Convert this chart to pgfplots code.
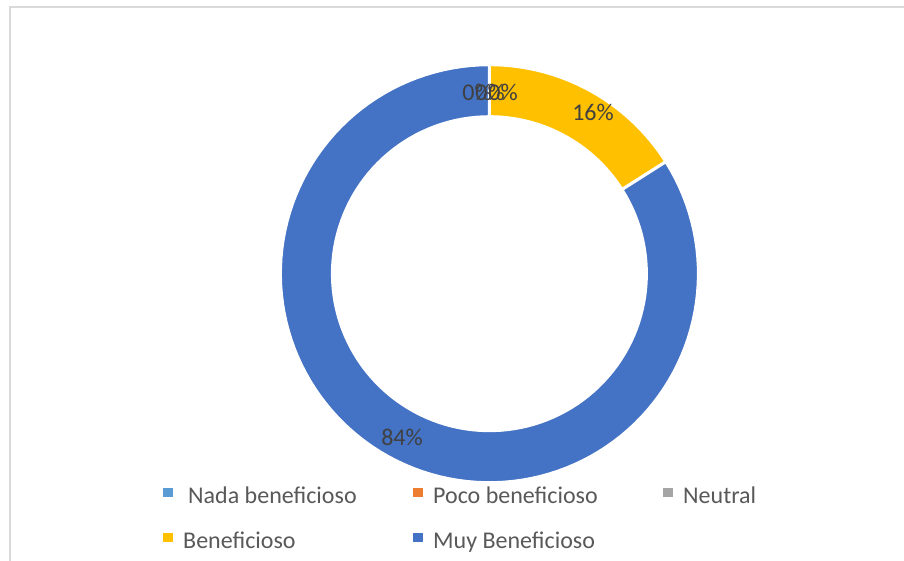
\documentclass[border=0pt]{standalone}
\usepackage{fontspec}
\setmainfont{Carlito}
\usepackage{pgfplots}
\usepackage{pgfplotstable}
\pgfplotsset{compat=1.18}
\definecolor{cNada}{HTML}{5B9BD5}
\definecolor{cPoco}{HTML}{ED7D31}
\definecolor{cNeutral}{HTML}{A5A5A5}
\definecolor{cBen}{HTML}{FFC000}
\definecolor{cMuy}{HTML}{4472C4}
\definecolor{framec}{HTML}{D9D9D9}
\definecolor{lbl}{HTML}{404040}
\definecolor{leg}{HTML}{595959}

\pgfplotstableread{
label value
Nada 0
Poco 0
Neutral 0
Beneficioso 16
Muy 84
}\donut

% colour, start angle, end angle
\newcommand{\slice}[3]{%
\addplot[fill=#1, draw=white, line width=3pt, domain=0:3, samples=361, forget plot]
 ({489.4+(209-52*min(max(x-1,0),1))*cos((#2)+((#3)-(#2))*min(x,1)+((#2)-(#3))*max(x-2,0))},
  {286.3+(209-52*min(max(x-1,0),1))*sin((#2)+((#3)-(#2))*min(x,1)+((#2)-(#3))*max(x-2,0))}) -- cycle;
}

\begin{document}%
\begin{tikzpicture}
\pgfplotstablegetelem{0}{value}\of\donut \let\vA\pgfplotsretval
\pgfplotstablegetelem{1}{value}\of\donut \let\vB\pgfplotsretval
\pgfplotstablegetelem{2}{value}\of\donut \let\vC\pgfplotsretval
\pgfplotstablegetelem{3}{value}\of\donut \let\vD\pgfplotsretval
\pgfplotstablegetelem{4}{value}\of\donut \let\vE\pgfplotsretval
\pgfmathsetmacro\sBen{90-3.6*(\vA+\vB+\vC)}
\pgfmathsetmacro\eBen{\sBen-3.6*\vD}
\pgfmathsetmacro\sMuy{\eBen}
\pgfmathsetmacro\eMuy{\sMuy-3.6*\vE}
\fill[white] (0,0) rectangle (904pt,560pt);
\begin{axis}[
  at={(0,0)}, anchor=south west,
  scale only axis, width=904pt, height=560pt,
  xmin=0, xmax=904, ymin=0, ymax=560,
  hide axis, clip=false,
  legend columns=3,
  legend style={at={(axis cs:163,75)}, anchor=north west, draw=none, fill=none,
    inner sep=0pt, column sep=10pt, row sep=21pt,
    font=\fontsize{24}{28}\selectfont, text=leg,
    nodes={inner sep=0pt, text height=18pt, text depth=6pt}},
  legend image code/.code={\fill[#1, draw=none] (0pt,0pt) rectangle (10pt,9pt);},
]
\addlegendimage{fill=cNada}
\addlegendentry{\makebox[220pt][l]{\hspace{5pt}Nada beneficioso}}
\addlegendimage{fill=cPoco}
\addlegendentry{\makebox[220pt][l]{Poco beneficioso}}
\addlegendimage{fill=cNeutral}
\addlegendentry{Neutral}
\addlegendimage{fill=cBen}
\addlegendentry{\makebox[220pt][l]{Beneficioso}}
\addlegendimage{fill=cMuy}
\addlegendentry{\makebox[220pt][l]{Muy Beneficioso}}

\slice{cBen}{\sBen}{\eBen}
\slice{cMuy}{\sMuy}{\eMuy}

\node[font=\fontsize{24}{28}\selectfont, text=lbl] at (axis cs:477,468) {0\%};
\node[font=\fontsize{24}{28}\selectfont, text=lbl] at (axis cs:490,468) {0\%};
\node[font=\fontsize{24}{28}\selectfont, text=lbl] at (axis cs:503,468) {0\%};
\node[font=\fontsize{24}{28}\selectfont, text=lbl] at (axis cs:593,448) {16\%};
\node[font=\fontsize{24}{28}\selectfont, text=lbl] at (axis cs:402,123) {84\%};
\end{axis}
\pgfresetboundingbox
\useasboundingbox (0,0) rectangle (904pt,560pt);
\draw[framec, line width=1.8pt] (10pt,-20pt) rectangle (960pt,553pt);
\end{tikzpicture}%
\end{document}
